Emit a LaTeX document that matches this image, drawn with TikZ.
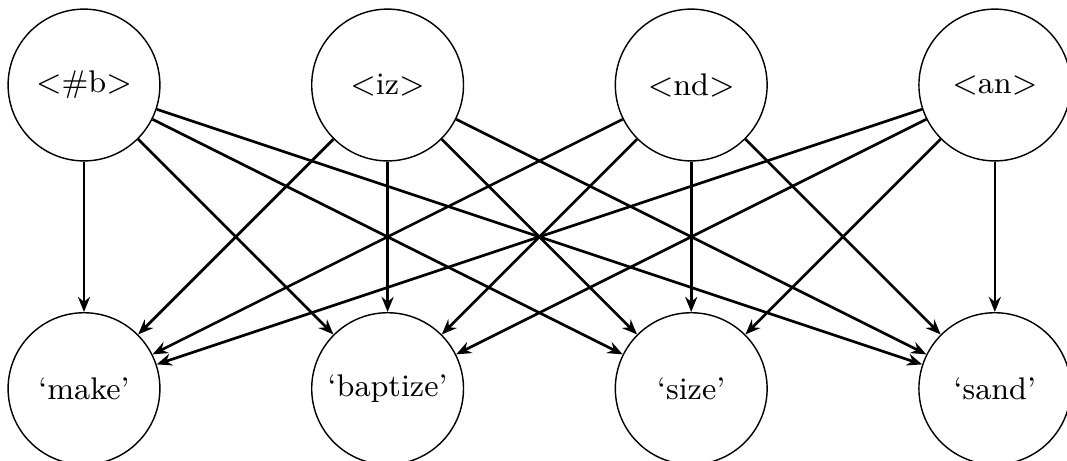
\documentclass[tikz,border=0pt]{standalone}
\usetikzlibrary{arrows.meta}
\begin{document}
\begin{tikzpicture}[
  unit/.style={circle, draw, thin, minimum size=1.5cm, inner sep=0pt, font=\fontsize{8.8pt}{10pt}\selectfont},
  link/.style={-{Stealth[length=1.5mm, width=1.2mm, inset=0.5mm]}, line width=0.75pt}
]
\useasboundingbox (-0.830,0.840) rectangle (9.713,-3.715);
\node[unit] (b)  at (0,0) {$<$\#b$>$};
\node[unit] (iz) at (3,0) {$<$iz$>$};
\node[unit] (nd) at (6,0) {$<$nd$>$};
\node[unit] (an) at (9,0) {$<$an$>$};
\node[unit] (make)    at (0,-3) {`make'};
\node[unit] (baptize) at (3,-3) {`baptize'};
\node[unit] (size)    at (6,-3) {`size'};
\node[unit] (sand)    at (9,-3) {`sand'};
\foreach \s in {b,iz,nd,an}
  \foreach \t in {make,baptize,size,sand}
    \draw[link] (\s) -- (\t);
\end{tikzpicture}
\end{document}
